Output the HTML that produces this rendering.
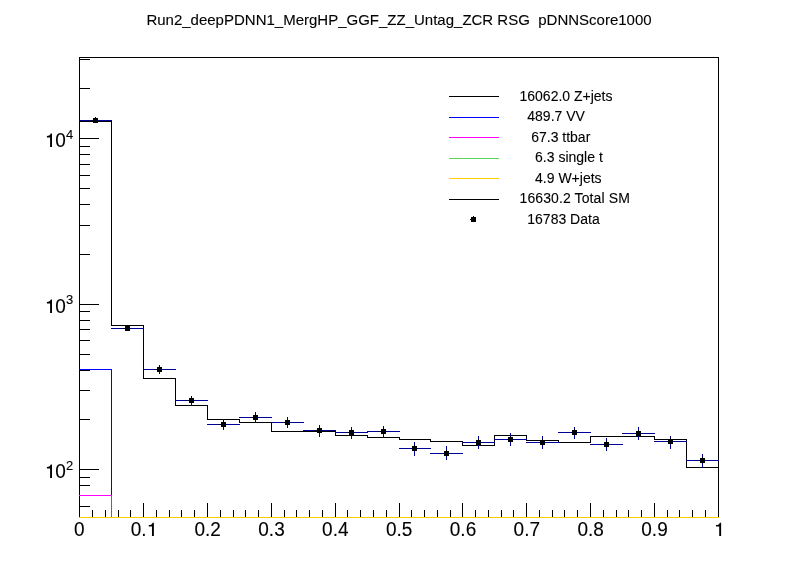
<!DOCTYPE html>
<html><head><meta charset="utf-8"><title>plot</title>
<style>html,body{margin:0;padding:0;background:#fff;}body{width:798px;height:575px;overflow:hidden;font-family:"Liberation Sans",sans-serif;}</style>
</head><body>
<svg width="798" height="575" viewBox="0 0 798 575" style="display:block;will-change:transform">
<rect width="798" height="575" fill="#fff"/>
<g shape-rendering="crispEdges" fill="none" stroke-width="1">
<path d="M79 57.5H719" stroke="#000"/>
<path d="M79 517.5H719" stroke="#000"/>
<path d="M79.5 57V518" stroke="#000"/>
<path d="M718.5 57V518" stroke="#000"/>
<path d="M79.5 503V517" stroke="#000"/>
<path d="M92.5 510V517" stroke="#000"/>
<path d="M105.5 510V517" stroke="#000"/>
<path d="M118.5 510V517" stroke="#000"/>
<path d="M130.5 510V517" stroke="#000"/>
<path d="M143.5 503V517" stroke="#000"/>
<path d="M156.5 510V517" stroke="#000"/>
<path d="M169.5 510V517" stroke="#000"/>
<path d="M181.5 510V517" stroke="#000"/>
<path d="M194.5 510V517" stroke="#000"/>
<path d="M207.5 503V517" stroke="#000"/>
<path d="M220.5 510V517" stroke="#000"/>
<path d="M233.5 510V517" stroke="#000"/>
<path d="M245.5 510V517" stroke="#000"/>
<path d="M258.5 510V517" stroke="#000"/>
<path d="M271.5 503V517" stroke="#000"/>
<path d="M284.5 510V517" stroke="#000"/>
<path d="M296.5 510V517" stroke="#000"/>
<path d="M309.5 510V517" stroke="#000"/>
<path d="M322.5 510V517" stroke="#000"/>
<path d="M335.5 503V517" stroke="#000"/>
<path d="M347.5 510V517" stroke="#000"/>
<path d="M360.5 510V517" stroke="#000"/>
<path d="M373.5 510V517" stroke="#000"/>
<path d="M386.5 510V517" stroke="#000"/>
<path d="M399.5 503V517" stroke="#000"/>
<path d="M411.5 510V517" stroke="#000"/>
<path d="M424.5 510V517" stroke="#000"/>
<path d="M437.5 510V517" stroke="#000"/>
<path d="M450.5 510V517" stroke="#000"/>
<path d="M462.5 503V517" stroke="#000"/>
<path d="M475.5 510V517" stroke="#000"/>
<path d="M488.5 510V517" stroke="#000"/>
<path d="M501.5 510V517" stroke="#000"/>
<path d="M513.5 510V517" stroke="#000"/>
<path d="M526.5 503V517" stroke="#000"/>
<path d="M539.5 510V517" stroke="#000"/>
<path d="M552.5 510V517" stroke="#000"/>
<path d="M564.5 510V517" stroke="#000"/>
<path d="M577.5 510V517" stroke="#000"/>
<path d="M590.5 503V517" stroke="#000"/>
<path d="M603.5 510V517" stroke="#000"/>
<path d="M616.5 510V517" stroke="#000"/>
<path d="M628.5 510V517" stroke="#000"/>
<path d="M641.5 510V517" stroke="#000"/>
<path d="M654.5 503V517" stroke="#000"/>
<path d="M667.5 510V517" stroke="#000"/>
<path d="M679.5 510V517" stroke="#000"/>
<path d="M692.5 510V517" stroke="#000"/>
<path d="M705.5 510V517" stroke="#000"/>
<path d="M718.5 503V517" stroke="#000"/>
<path d="M79 506.5H90" stroke="#000"/>
<path d="M79 495.5H90" stroke="#000"/>
<path d="M79 485.5H90" stroke="#000"/>
<path d="M79 477.5H90" stroke="#000"/>
<path d="M79 469.5H99" stroke="#000"/>
<path d="M79 419.5H90" stroke="#000"/>
<path d="M79 390.5H90" stroke="#000"/>
<path d="M79 370.5H90" stroke="#000"/>
<path d="M79 354.5H90" stroke="#000"/>
<path d="M79 340.5H90" stroke="#000"/>
<path d="M79 329.5H90" stroke="#000"/>
<path d="M79 320.5H90" stroke="#000"/>
<path d="M79 311.5H90" stroke="#000"/>
<path d="M79 304.5H99" stroke="#000"/>
<path d="M79 254.5H90" stroke="#000"/>
<path d="M79 225.5H90" stroke="#000"/>
<path d="M79 204.5H90" stroke="#000"/>
<path d="M79 188.5H90" stroke="#000"/>
<path d="M79 175.5H90" stroke="#000"/>
<path d="M79 164.5H90" stroke="#000"/>
<path d="M79 154.5H90" stroke="#000"/>
<path d="M79 146.5H90" stroke="#000"/>
<path d="M79 138.5H99" stroke="#000"/>
<path d="M79 88.5H90" stroke="#000"/>
<path d="M79 59.5H90" stroke="#000"/>
<path d="M79.5 57V518" stroke="#000"/>
<path d="M79 369.5H112" stroke="#0000ff"/>
<path d="M111.5 369V518" stroke="#0000ff"/>
<path d="M79 495.5H112" stroke="#ff00ff"/>
<path d="M111.5 495V518" stroke="#ff00ff"/>
<path d="M79 517.5H719" stroke="#ffcc00"/>
<path d="M79.5 121.5H111.5V325.5H143.5V378.5H175.5V405.5H207.5V419.5H239.5V422.5H271.5V431.5H303.5V431.5H335.5V435.5H367.5V437.5H399.5V439.5H430.5V441.5H462.5V445.5H494.5V435.5H526.5V440.5H558.5V442.5H590.5V436.5H622.5V436.5H654.5V439.5H686.5V467.5H718.5V517" stroke="#000" shape-rendering="crispEdges"/>
<path d="M79 120.5H112" stroke="#000099"/>
<path d="M111 328.5H144" stroke="#000099"/>
<path d="M143 369.5H176" stroke="#000099"/>
<path d="M159.5 365V374" stroke="#000099"/>
<path d="M175 400.5H208" stroke="#000099"/>
<path d="M191.5 396V406" stroke="#000099"/>
<path d="M207 424.5H240" stroke="#000099"/>
<path d="M223.5 419V430" stroke="#000099"/>
<path d="M239 417.5H272" stroke="#000099"/>
<path d="M255.5 412V423" stroke="#000099"/>
<path d="M271 422.5H304" stroke="#000099"/>
<path d="M287.5 417V428" stroke="#000099"/>
<path d="M303 430.5H336" stroke="#000099"/>
<path d="M319.5 425V437" stroke="#000099"/>
<path d="M335 432.5H368" stroke="#000099"/>
<path d="M351.5 427V439" stroke="#000099"/>
<path d="M367 431.5H400" stroke="#000099"/>
<path d="M383.5 426V438" stroke="#000099"/>
<path d="M399 448.5H431" stroke="#000099"/>
<path d="M414.5 442V456" stroke="#000099"/>
<path d="M430 453.5H463" stroke="#000099"/>
<path d="M446.5 446V460" stroke="#000099"/>
<path d="M462 442.5H495" stroke="#000099"/>
<path d="M478.5 436V449" stroke="#000099"/>
<path d="M494 439.5H527" stroke="#000099"/>
<path d="M510.5 433V446" stroke="#000099"/>
<path d="M526 442.5H559" stroke="#000099"/>
<path d="M542.5 436V449" stroke="#000099"/>
<path d="M558 432.5H591" stroke="#000099"/>
<path d="M574.5 427V439" stroke="#000099"/>
<path d="M590 444.5H623" stroke="#000099"/>
<path d="M606.5 438V451" stroke="#000099"/>
<path d="M622 433.5H655" stroke="#000099"/>
<path d="M638.5 427V440" stroke="#000099"/>
<path d="M654 441.5H687" stroke="#000099"/>
<path d="M670.5 436V449" stroke="#000099"/>
<path d="M686 460.5H719" stroke="#000099"/>
<path d="M702.5 454V468" stroke="#000099"/>
<path d="M93 118h2v-1h1v1h2v5h-5v-2h-1v-1h1z" fill="#000" stroke="none"/>
<path d="M125 326h2v-1h1v1h2v5h-5v-2h-1v-1h1z" fill="#000" stroke="none"/>
<path d="M157 367h2v-1h1v1h2v5h-5v-2h-1v-1h1z" fill="#000" stroke="none"/>
<path d="M189 398h2v-1h1v1h2v5h-5v-2h-1v-1h1z" fill="#000" stroke="none"/>
<path d="M221 422h2v-1h1v1h2v5h-5v-2h-1v-1h1z" fill="#000" stroke="none"/>
<path d="M253 415h2v-1h1v1h2v5h-5v-2h-1v-1h1z" fill="#000" stroke="none"/>
<path d="M285 420h2v-1h1v1h2v5h-5v-2h-1v-1h1z" fill="#000" stroke="none"/>
<path d="M317 428h2v-1h1v1h2v5h-5v-2h-1v-1h1z" fill="#000" stroke="none"/>
<path d="M349 430h2v-1h1v1h2v5h-5v-2h-1v-1h1z" fill="#000" stroke="none"/>
<path d="M381 429h2v-1h1v1h2v5h-5v-2h-1v-1h1z" fill="#000" stroke="none"/>
<path d="M412 446h2v-1h1v1h2v5h-5v-2h-1v-1h1z" fill="#000" stroke="none"/>
<path d="M444 451h2v-1h1v1h2v5h-5v-2h-1v-1h1z" fill="#000" stroke="none"/>
<path d="M476 440h2v-1h1v1h2v5h-5v-2h-1v-1h1z" fill="#000" stroke="none"/>
<path d="M508 437h2v-1h1v1h2v5h-5v-2h-1v-1h1z" fill="#000" stroke="none"/>
<path d="M540 440h2v-1h1v1h2v5h-5v-2h-1v-1h1z" fill="#000" stroke="none"/>
<path d="M572 430h2v-1h1v1h2v5h-5v-2h-1v-1h1z" fill="#000" stroke="none"/>
<path d="M604 442h2v-1h1v1h2v5h-5v-2h-1v-1h1z" fill="#000" stroke="none"/>
<path d="M636 431h2v-1h1v1h2v5h-5v-2h-1v-1h1z" fill="#000" stroke="none"/>
<path d="M668 439h2v-1h1v1h2v5h-5v-2h-1v-1h1z" fill="#000" stroke="none"/>
<path d="M700 458h2v-1h1v1h2v5h-5v-2h-1v-1h1z" fill="#000" stroke="none"/>
<path d="M449 96.5H499" stroke="#000"/>
<path d="M449 117.5H499" stroke="#0000ff"/>
<path d="M449 137.5H499" stroke="#ff00ff"/>
<path d="M449 158.5H499" stroke="#59d454"/>
<path d="M449 178.5H499" stroke="#ffcc00"/>
<path d="M449 199.5H499" stroke="#000"/>
<path d="M471 217h2v-1h1v1h2v5h-5v-2h-1v-1h1z" fill="#000" stroke="none"/>
</g>
<g font-family="'Liberation Sans', sans-serif" fill="#000" stroke="#000" stroke-width="0.1">
<text x="399" y="24.5" font-size="15" text-anchor="middle" xml:space="preserve">Run2_deepPDNN1_MergHP_GGF_ZZ_Untag_ZCR RSG  pDNNScore1000</text>
<text x="519.5" y="100.80" font-size="14" xml:space="preserve">16062.0 Z+jets</text>
<text x="519.5" y="121.25" font-size="14" xml:space="preserve">  489.7 VV</text>
<text x="519.5" y="141.70" font-size="14" xml:space="preserve">   67.3 ttbar</text>
<text x="519.5" y="162.15" font-size="14" xml:space="preserve">    6.3 single t</text>
<text x="519.5" y="182.60" font-size="14" xml:space="preserve">    4.9 W+jets</text>
<text x="519.5" y="203.05" font-size="14" xml:space="preserve" textLength="110.3" lengthAdjust="spacing">16630.2 Total SM</text>
<text x="519.5" y="223.50" font-size="14" xml:space="preserve">  16783 Data</text>
<text transform="translate(79.3 536.2) scale(1 1.02)" font-size="19" text-anchor="middle">0</text>
<text transform="translate(130.73 536.2) scale(1 1.02)" font-size="19">0.</text>
<path stroke="none" d="M153.88 522.70V536.00h-1.9V526.50h-3.2v-1.4q3.3 0 3.8 -2.4z"/>
<text transform="translate(207.6 536.2) scale(1 1.02)" font-size="19" text-anchor="middle">0.2</text>
<text transform="translate(271.5 536.2) scale(1 1.02)" font-size="19" text-anchor="middle">0.3</text>
<text transform="translate(335.3 536.2) scale(1 1.02)" font-size="19" text-anchor="middle">0.4</text>
<text transform="translate(399.2 536.2) scale(1 1.02)" font-size="19" text-anchor="middle">0.5</text>
<text transform="translate(463.0 536.2) scale(1 1.02)" font-size="19" text-anchor="middle">0.6</text>
<text transform="translate(526.8 536.2) scale(1 1.02)" font-size="19" text-anchor="middle">0.7</text>
<text transform="translate(590.7 536.2) scale(1 1.02)" font-size="19" text-anchor="middle">0.8</text>
<text transform="translate(654.5 536.2) scale(1 1.02)" font-size="19" text-anchor="middle">0.9</text>
<path stroke="none" d="M721.12 522.70V536.00h-1.9V526.50h-3.2v-1.4q3.3 0 3.8 -2.4z"/>
<path stroke="none" d="M52.00 133.60V146.90h-1.9V137.40h-3.2v-1.4q3.3 0 3.8 -2.4z"/>
<text transform="translate(55.26 147.2) scale(1 1.02)" font-size="19">0</text>
<text transform="translate(66 138.6)" font-size="13">4</text>
<path stroke="none" d="M52.00 299.60V312.90h-1.9V303.40h-3.2v-1.4q3.3 0 3.8 -2.4z"/>
<text transform="translate(55.26 313.2) scale(1 1.02)" font-size="19">0</text>
<text transform="translate(66 303.7)" font-size="13">3</text>
<path stroke="none" d="M52.00 464.60V477.90h-1.9V468.40h-3.2v-1.4q3.3 0 3.8 -2.4z"/>
<text transform="translate(55.26 478.2) scale(1 1.02)" font-size="19">0</text>
<text transform="translate(66 470.2)" font-size="13">2</text>
</g></svg>
</body></html>
